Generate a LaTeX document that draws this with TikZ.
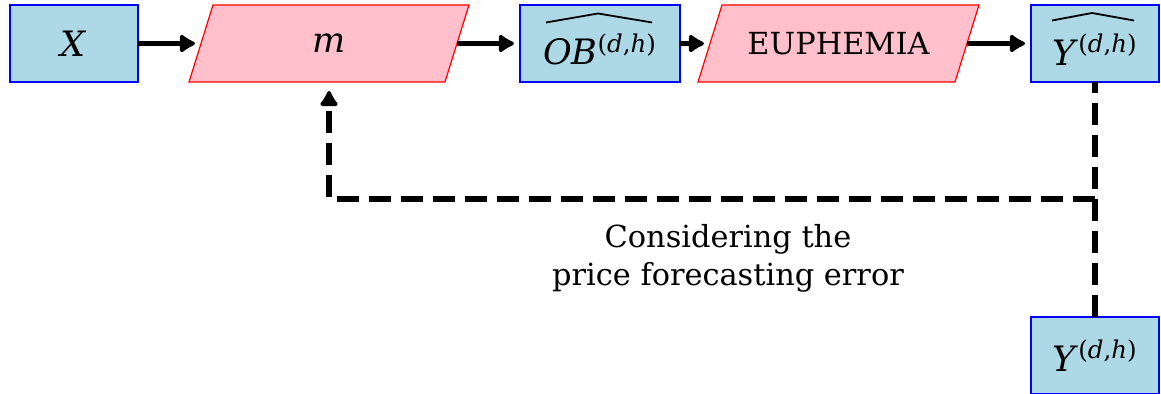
\documentclass[tikz,border=0pt]{standalone}
\usepackage{fontspec}
\setmainfont{DejaVu Serif}
\usetikzlibrary{arrows.meta,backgrounds}
\definecolor{boxblue}{RGB}{173,216,230}
\definecolor{boxpink}{RGB}{255,192,203}
\newcommand\supdh{\textsuperscript{(\textit{d},\textit{h})}}
\newcommand\lowered[1]{\raisebox{-3pt}[\height][\depth]{#1}}
\begin{document}
\begin{tikzpicture}[x=0.5pt,y=-0.5pt,
  every node/.style={font=\fontsize{15.2}{19}\selectfont, inner sep=0pt, outer sep=0pt},
  mathlbl/.style={font=\fontsize{17.5}{20}\selectfont},
  bluebox/.style={draw=blue, fill=boxblue, line width=0.6pt, minimum height=38.5pt, mathlbl},
  pinktext/.style={minimum height=38.5pt},
  pinkshape/.style={draw=red, fill=boxpink, line width=0.6pt},
  arr/.style={line width=2.8pt, -{Latex[round,length=9pt,width=11pt]}, shorten >=3pt},
  dsh/.style={line width=2.8pt, dash pattern=on 11pt off 5pt, line join=round},
  hat/.style={line width=0.9pt, line join=miter}]
\useasboundingbox (0,0) rectangle (1161,394);
\node[bluebox, minimum width=64pt] (X) at (74,43.5) {\textit{X}};
\node[pinktext, mathlbl, minimum width=128pt] (m) at (329,43.5) {\textit{m}};
\node[bluebox, minimum width=80pt] (OB) at (600,43.5) {\lowered{\textit{OB}\supdh}};
\node[pinktext, minimum width=128.5pt] (E) at (838.5,43.5) {EUPHEMIA};
\node[bluebox, minimum width=64pt] (Yh) at (1095,43.5) {\lowered{\textit{Y}\supdh}};
\node[bluebox, minimum width=64pt] (Y) at (1095,355.5) {\textit{Y}\supdh};
\begin{scope}[on background layer]
  \foreach \n in {m,E}{
    \draw[pinkshape] ([xshift=-6pt]\n.south west) -- ([xshift=-6pt]\n.south east)
      -- ([xshift=6pt]\n.north east) -- ([xshift=6pt]\n.north west) -- cycle;
  }
\end{scope}
% hats over the estimated quantities
\draw[hat] ([shift={(-54,-21)}]OB.center) -- ([shift={(-2,-30)}]OB.center) -- ([shift={(52,-21)}]OB.center);
\draw[hat] ([shift={(-43,-23)}]Yh.center) -- ([shift={(-3,-30.5)}]Yh.center) -- ([shift={(39,-23)}]Yh.center);
\coordinate (j) at (1095,199);
\draw[arr] (X) -- (m);
\draw[arr] (m) -- (OB);
\draw[arr] (OB) -- (E);
\draw[arr] (E) -- (Yh);
\draw[dsh] (Y.north) -- (Yh.south);
\draw[dsh, -{Latex[round,length=9pt,width=11pt]}, shorten >=4.5pt] (j) -| (m.south);
\node[align=center] (lbl) at (728,258) {Considering the\\price forecasting error};
\end{tikzpicture}
\end{document}
